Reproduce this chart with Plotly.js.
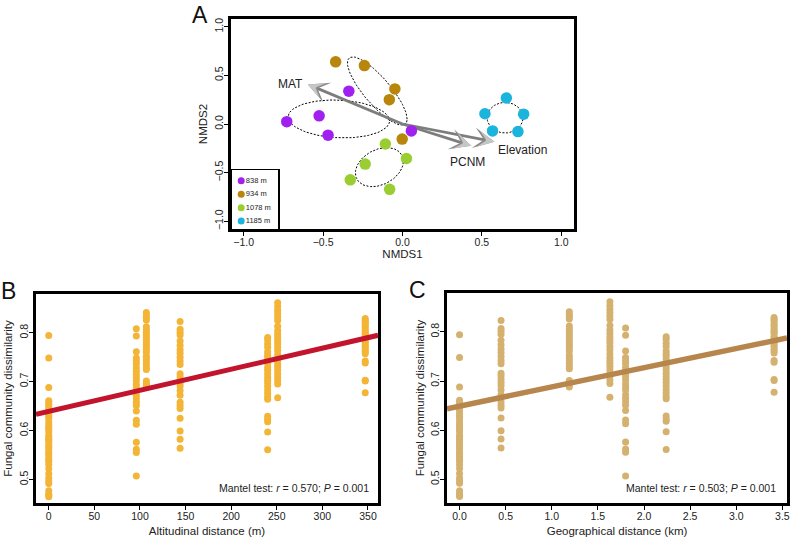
<!DOCTYPE html>
<html><head><meta charset="utf-8">
<script src="https://cdn.plot.ly/plotly-3.0.1.min.js"></script>
<style>html,body{margin:0;padding:0;background:#fff}</style>
</head><body>
<div id="chart" style="width:792px;height:543px"></div>
<script>
// ---------- Panel A : NMDS site scores ----------
const groupNames  = ['838 m', '934 m', '1078 m', '1185 m'];
const groupColors = ['#a020f0', '#b8860b', '#9acd32', '#1ab4dc'];
const nmds1_838  = [-0.729, -0.525, -0.469, -0.338, 0.056];
const nmds2_838  = [0.024, 0.084, -0.115, 0.338, -0.071];
const nmds1_934  = [-0.421, -0.240, -0.048, -0.083, -0.002];
const nmds2_934  = [0.639, 0.601, 0.361, 0.250, -0.155];
const nmds1_1078 = [-0.108, 0.025, -0.235, -0.329, -0.081];
const nmds2_1078 = [-0.206, -0.355, -0.412, -0.574, -0.672];
const nmds1_1185 = [0.654, 0.519, 0.763, 0.567, 0.727];
const nmds2_1185 = [0.267, 0.105, 0.101, -0.071, -0.078];
// envfit vectors
const vecNames = ['MAT', 'PCNM', 'Elevation'];
const vecX = [-0.596, 0.432, 0.579];
const vecY = [0.407, -0.223, -0.183];
const nmdsTicks = [-1, -0.5, 0, 0.5, 1];

// ---------- Panels B & C : pairwise dissimilarity ----------
const pairAltDist = [0, 96, 107, 144, 240, 251, 347];        // m
const pairGeoDist = [0, 1.80, 1.19, 0.45, 2.24, 1.63, 3.41]; // km
const dissimWithin = [0.794, 0.748, 0.688, 0.661, 0.657, 0.653, 0.648, 0.644, 0.639, 0.633,
  0.628, 0.624, 0.617, 0.611, 0.606, 0.602, 0.597, 0.590, 0.586, 0.581, 0.575, 0.570, 0.566,
  0.561, 0.555, 0.551, 0.546, 0.541, 0.537, 0.530, 0.522, 0.512, 0.503, 0.497, 0.492, 0.477,
  0.471, 0.468, 0.465, 0.580];
const dissim838_934 = [0.808, 0.793, 0.761, 0.748, 0.742, 0.736, 0.728, 0.721, 0.714, 0.708,
  0.702, 0.694, 0.688, 0.682, 0.672, 0.665, 0.658, 0.651, 0.640, 0.621, 0.613, 0.576, 0.562, 0.555, 0.507];
const dissim1078_1185 = [0.841, 0.836, 0.831, 0.826, 0.812, 0.806, 0.801, 0.796, 0.791, 0.786,
  0.781, 0.776, 0.771, 0.766, 0.760, 0.752, 0.747, 0.742, 0.736, 0.730, 0.725, 0.701, 0.696, 0.692, 0.688];
const dissim934_1078 = [0.823, 0.807, 0.801, 0.795, 0.783, 0.774, 0.765, 0.758, 0.750, 0.742,
  0.735, 0.716, 0.710, 0.703, 0.697, 0.691, 0.682, 0.672, 0.658, 0.651, 0.645, 0.625, 0.599, 0.582, 0.564];
const dissim838_1078 = [0.790, 0.785, 0.777, 0.770, 0.761, 0.755, 0.751, 0.745, 0.737, 0.729,
  0.723, 0.716, 0.709, 0.703, 0.697, 0.690, 0.683, 0.676, 0.669, 0.664, 0.629, 0.623, 0.618, 0.597, 0.561];
const dissim934_1185 = [0.861, 0.853, 0.846, 0.839, 0.832, 0.825, 0.813, 0.804, 0.797, 0.790,
  0.784, 0.778, 0.770, 0.763, 0.755, 0.748, 0.742, 0.736, 0.730, 0.723, 0.716, 0.709, 0.702, 0.695, 0.667];
const dissim838_1185 = [0.829, 0.825, 0.823, 0.818, 0.815, 0.811, 0.806, 0.803, 0.799, 0.797,
  0.791, 0.788, 0.784, 0.781, 0.777, 0.772, 0.769, 0.764, 0.761, 0.757, 0.742, 0.738, 0.703, 0.701, 0.677];
const altFit = [0.639, 0.000431];   // intercept, slope (per m)
const geoFit = [0.649, 0.0390];     // intercept, slope (per km)
const mantelAlt = ['0.570', '0.001'];
const mantelGeo = ['0.503', '0.001'];
const altTicks = [0, 50, 100, 150, 200, 250, 300, 350];
const geoTicks = [0, 0.5, 1, 1.5, 2, 2.5, 3, 3.5];
const dissimTicks = [0.5, 0.6, 0.7, 0.8];

// ---------- build ----------
const W = 792, H = 543;
const fx = v => v / W, fy = v => 1 - v / H;
const FONT = 'Liberation Sans, Arial, Helvetica, sans-serif';

const nmdsX = [nmds1_838, nmds1_934, nmds1_1078, nmds1_1185];
const nmdsY = [nmds2_838, nmds2_934, nmds2_1078, nmds2_1185];
const dissimCols = [dissimWithin, dissim838_934, dissim1078_1185, dissim934_1078,
                    dissim838_1078, dissim934_1185, dissim838_1185];

// standard-error ellipse (vegan::ordiellipse kind="se", conf=0.95)
function seEllipse(xs, ys) {
  const n = xs.length;
  const mx = xs.reduce((a, b) => a + b, 0) / n, my = ys.reduce((a, b) => a + b, 0) / n;
  let sxx = 0, syy = 0, sxy = 0;
  for (let i = 0; i < n; i++) { const dx = xs[i] - mx, dy = ys[i] - my; sxx += dx*dx; syy += dy*dy; sxy += dx*dy; }
  sxx /= (n - 1) * n; syy /= (n - 1) * n; sxy /= (n - 1) * n;
  const l11 = Math.sqrt(sxx), l21 = sxy / l11, l22 = Math.sqrt(Math.max(syy - l21*l21, 0));
  const k = Math.sqrt(5.991465);
  const ex = [], ey = [];
  for (let j = 0; j <= 100; j++) {
    const t = 2 * Math.PI * j / 100, c = Math.cos(t), s = Math.sin(t);
    ex.push(mx + k * l11 * c);
    ey.push(my + k * (l21 * c + l22 * s));
  }
  return [ex, ey];
}

const traces = [];
// ellipses
for (let g = 0; g < 4; g++) {
  const [ex, ey] = seEllipse(nmdsX[g], nmdsY[g]);
  traces.push({x: ex, y: ey, xaxis: 'x', yaxis: 'y', mode: 'lines', showlegend: false, hoverinfo: 'skip',
    line: {color: '#000', width: 1, dash: '2px,1.6px'}});
}
// arrow shafts
for (let v = 0; v < vecNames.length; v++) {
  traces.push({x: [0, vecX[v] * 0.95], y: [0, vecY[v] * 0.95], xaxis: 'x', yaxis: 'y', mode: 'lines',
    showlegend: false, hoverinfo: 'skip', line: {color: '#7d7d7d', width: 2.8}});
}
// points
for (let g = 0; g < 4; g++) {
  traces.push({x: nmdsX[g], y: nmdsY[g], xaxis: 'x', yaxis: 'y', mode: 'markers', name: groupNames[g],
    showlegend: false, marker: {color: groupColors[g], size: 11.5}});
}
// inset legend (panel A)
traces.push({x: groupNames.map(() => 0.2), y: groupNames.map((_, i) => 4 - i), xaxis: 'x4', yaxis: 'y4',
  mode: 'markers', showlegend: false, hoverinfo: 'skip', marker: {color: groupColors, size: 7}});
traces.push({x: groupNames.map(() => 0.3), y: groupNames.map((_, i) => 4 - i), xaxis: 'x4', yaxis: 'y4',
  mode: 'text', text: groupNames, textposition: 'middle right', showlegend: false, hoverinfo: 'skip',
  textfont: {size: 7.5, color: '#222', family: FONT}});

// panel B and C points
const bx = [], cx = [], yy = [];
dissimCols.forEach((col, i) => col.forEach(v => { bx.push(pairAltDist[i]); cx.push(pairGeoDist[i]); yy.push(v); }));
traces.push({x: bx, y: yy, xaxis: 'x2', yaxis: 'y2', mode: 'markers', showlegend: false,
  marker: {color: '#f4b436', size: 7}});
traces.push({x: cx, y: yy, xaxis: 'x3', yaxis: 'y3', mode: 'markers', showlegend: false,
  marker: {color: '#d5b170', size: 7}});

const rangeB = [-14, 361], rangeC = [-0.136, 3.55], rangeY = [0.452, 0.879];
traces.push({x: rangeB, y: rangeB.map(v => altFit[0] + altFit[1] * v), xaxis: 'x2', yaxis: 'y2',
  mode: 'lines', showlegend: false, hoverinfo: 'skip', line: {color: '#c3142d', width: 5}});
traces.push({x: rangeC, y: rangeC.map(v => geoFit[0] + geoFit[1] * v), xaxis: 'x3', yaxis: 'y3',
  mode: 'lines', showlegend: false, hoverinfo: 'skip', line: {color: '#b7864c', width: 5.5}});

const baseAxis = {showline: true, mirror: true, linecolor: '#000', linewidth: 2.6, ticks: 'outside',
  ticklen: 4, tickwidth: 1, tickcolor: '#000', showgrid: false, zeroline: false, automargin: false,
  fixedrange: true, tickfont: {size: 10.5, color: '#222', family: FONT}};
const xAxisBase = Object.assign({}, baseAxis, {ticklabelstandoff: -2});
const yAxisBase = Object.assign({}, baseAxis, {ticklabelstandoff: -3});
const titleFont = {size: 11.5, color: '#222', family: FONT};

const layout = {
  width: W, height: H, margin: {l: 0, r: 0, t: 0, b: 0},
  paper_bgcolor: '#fff', plot_bgcolor: '#fff', font: {family: FONT, color: '#222'},
  showlegend: false,
  xaxis: Object.assign({}, xAxisBase, {domain: [fx(231), fx(574)], range: [-1.08, 1.08], anchor: 'y',
    tickvals: nmdsTicks, tickformat: '.1f', title: {text: 'NMDS1', font: titleFont, standoff: 3}}),
  yaxis: Object.assign({}, yAxisBase, {domain: [fy(229), fy(19)], range: [-1.08, 1.08], anchor: 'x',
    tickvals: nmdsTicks, tickformat: '.1f', tickangle: -90, title: {text: 'NMDS2', font: titleFont, standoff: 3}}),
  xaxis2: Object.assign({}, xAxisBase, {domain: [fx(36), fx(378)], range: rangeB, anchor: 'y2',
    tickvals: altTicks, title: {text: 'Altitudinal distance (m)', font: titleFont, standoff: 6}}),
  yaxis2: Object.assign({}, yAxisBase, {domain: [fy(503), fy(294)], range: rangeY, anchor: 'x2',
    tickvals: dissimTicks, tickformat: '.1f', tickangle: -90,
    title: {text: 'Fungal community dissimilarity', font: titleFont, standoff: 3}}),
  xaxis3: Object.assign({}, xAxisBase, {domain: [fx(447), fx(787)], range: rangeC, anchor: 'y3',
    tickvals: geoTicks, tickformat: '.1f', title: {text: 'Geographical distance (km)', font: titleFont, standoff: 6}}),
  yaxis3: Object.assign({}, yAxisBase, {domain: [fy(503), fy(293)], range: rangeY, anchor: 'x3',
    tickvals: dissimTicks, tickformat: '.1f', tickangle: -90,
    title: {text: 'Fungal community dissimilarity', font: titleFont, standoff: 2}}),
  xaxis4: {domain: [fx(232), fx(278)], range: [0, 1], anchor: 'y4', showline: true, mirror: true,
    linecolor: '#000', linewidth: 1.5, ticks: '', showticklabels: false, showgrid: false, zeroline: false, fixedrange: true},
  yaxis4: {domain: [fy(229), fy(170)], range: [0.41, 4.81], anchor: 'x4', showline: true, mirror: true,
    linecolor: '#000', linewidth: 1.5, ticks: '', showticklabels: false, showgrid: false, zeroline: false, fixedrange: true},
  annotations: []
};

// panel letters
[['A', 200, 0], ['B', 8, 276], ['C', 417, 275]].forEach(([t, x, y]) => {
  layout.annotations.push({text: t, xref: 'paper', yref: 'paper', x: fx(x), y: fy(y), xanchor: 'center',
    yanchor: 'top', showarrow: false, font: {size: 23, color: '#111', family: FONT}});
});
// Mantel texts
layout.annotations.push({text: 'Mantel test: <i>r</i> = ' + mantelAlt[0] + '; <i>P</i> = ' + mantelAlt[1],
  xref: 'paper', yref: 'paper', x: fx(371), y: fy(488), xanchor: 'right', yanchor: 'middle', showarrow: false,
  font: {size: 10.5, color: '#222', family: FONT}});
layout.annotations.push({text: 'Mantel test: <i>r</i> = ' + mantelGeo[0] + '; <i>P</i> = ' + mantelGeo[1],
  xref: 'paper', yref: 'paper', x: fx(778), y: fy(488), xanchor: 'right', yanchor: 'middle', showarrow: false,
  font: {size: 10.5, color: '#222', family: FONT}});
// arrow heads and labels
const labelStyle = {
  'MAT':       {xanchor: 'right',  yanchor: 'middle', xshift: -3, yshift: 0},
  'PCNM':      {xanchor: 'center', yanchor: 'top',    xshift: -4, yshift: -7},
  'Elevation': {xanchor: 'left',   yanchor: 'middle', xshift: 2,  yshift: -8}
};
for (let v = 0; v < vecNames.length; v++) {
  layout.annotations.push({x: vecX[v], y: vecY[v], xref: 'x', yref: 'y', ax: vecX[v] * 0.9, ay: vecY[v] * 0.9,
    axref: 'x', ayref: 'y', text: '', showarrow: true, arrowhead: 3, arrowsize: 1.35, arrowwidth: 2.6,
    arrowcolor: '#8a8a8a'});
  layout.annotations.push({x: vecX[v], y: vecY[v], xref: 'x', yref: 'y', ax: vecX[v] * 0.9, ay: vecY[v] * 0.9,
    axref: 'x', ayref: 'y', text: '', showarrow: true, arrowhead: 3, arrowsize: 1.05, arrowwidth: 2.6,
    arrowcolor: '#c6c6c6'});
  layout.annotations.push(Object.assign({x: vecX[v], y: vecY[v], xref: 'x', yref: 'y', text: vecNames[v],
    showarrow: false, font: {size: 12, color: '#222', family: FONT}}, labelStyle[vecNames[v]]));
}

Plotly.newPlot('chart', traces, layout, {staticPlot: true, displayModeBar: false});
</script>
</body></html>
